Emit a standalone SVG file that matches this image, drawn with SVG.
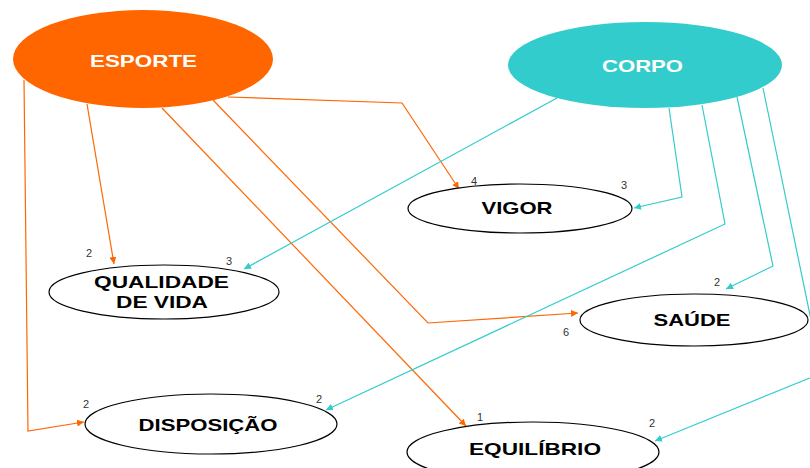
<svg xmlns="http://www.w3.org/2000/svg" width="810" height="468" viewBox="0 0 810 468">
<defs>
<marker id="ao" viewBox="0 0 10 10" refX="10" refY="5" markerWidth="7" markerHeight="7" markerUnits="userSpaceOnUse" orient="auto"><path d="M0,0 L10,5 L0,10 z" fill="#FF6600"/></marker>
<marker id="ac" viewBox="0 0 10 10" refX="10" refY="5" markerWidth="7" markerHeight="7" markerUnits="userSpaceOnUse" orient="auto"><path d="M0,0 L10,5 L0,10 z" fill="#33CCCC"/></marker>
</defs>
<style>
.o{fill:none;stroke:#FF6600;stroke-width:1.2;marker-end:url(#ao)}
.c{fill:none;stroke:#33CCCC;stroke-width:1.2;marker-end:url(#ac)}
.n{fill:#fff;stroke:#000;stroke-width:1.2}
.t{font-family:"Liberation Sans",Arial,sans-serif;font-weight:bold;font-size:17px;text-anchor:middle;fill:#000}
.w{fill:#fff}
.l{font-family:"Liberation Sans",Arial,sans-serif;font-size:11px;fill:#333;text-anchor:middle}
</style>
<g id="connectors">
<polyline class="o" points="87,104 114,264"/>
<polyline class="o" points="24,80 28,431 84,422"/>
<polyline class="o" points="228,97 402,103 459,189"/>
<polyline class="o" points="213,100 428,323 578,313"/>
<polyline class="o" points="162,108 466,426"/>
<polyline class="c" points="557,98 244,269"/>
<polyline class="c" points="669,108 682,197 634,208"/>
<polyline class="c" points="702,105 725,224 326,410"/>
<polyline class="c" points="737,97 773,266 726,289"/>
<polyline class="c" points="763,88 822,373 655,441"/>
</g>
<g id="esporte">
<ellipse cx="143" cy="59" rx="130" ry="49" fill="#FF6600"/>
<text class="t w" x="143.5" y="66.5" font-size="16" textLength="107" lengthAdjust="spacingAndGlyphs">ESPORTE</text>
</g>
<g id="corpo">
<ellipse cx="645" cy="65" rx="137" ry="43" fill="#33CCCC"/>
<text class="t w" x="642.5" y="71.5" textLength="81" lengthAdjust="spacingAndGlyphs">CORPO</text>
</g>
<g id="vigor">
<ellipse class="n" cx="520" cy="208.5" rx="112" ry="24.5"/>
<text class="t" x="517" y="214" textLength="71" lengthAdjust="spacingAndGlyphs">VIGOR</text>
<text class="l" x="474" y="185">4</text>
<text class="l" x="624" y="189">3</text>
</g>
<g id="qualidade">
<ellipse class="n" cx="164" cy="292" rx="115" ry="27"/>
<text class="t" x="161.5" y="288" textLength="135" lengthAdjust="spacingAndGlyphs">QUALIDADE</text>
<text class="t" x="162" y="308" textLength="92" lengthAdjust="spacingAndGlyphs">DE VIDA</text>
<text class="l" x="89" y="257">2</text>
<text class="l" x="229" y="265">3</text>
</g>
<g id="saude">
<ellipse class="n" cx="694" cy="320" rx="114" ry="26"/>
<text class="t" x="692" y="325.5" textLength="77" lengthAdjust="spacingAndGlyphs">SAÚDE</text>
<text class="l" x="717" y="286">2</text>
<text class="l" x="566" y="336">6</text>
</g>
<g id="disposicao">
<ellipse class="n" cx="211" cy="424" rx="126" ry="30"/>
<text class="t" x="208" y="430.5" textLength="139" lengthAdjust="spacingAndGlyphs">DISPOSIÇÃO</text>
<text class="l" x="86" y="408">2</text>
<text class="l" x="319" y="403">2</text>
</g>
<g id="equilibrio">
<ellipse class="n" cx="533" cy="452" rx="126" ry="30"/>
<text class="t" x="535" y="455" textLength="132" lengthAdjust="spacingAndGlyphs">EQUILÍBRIO</text>
<text class="l" x="480" y="421">1</text>
<text class="l" x="652" y="427">2</text>
</g>
</svg>
